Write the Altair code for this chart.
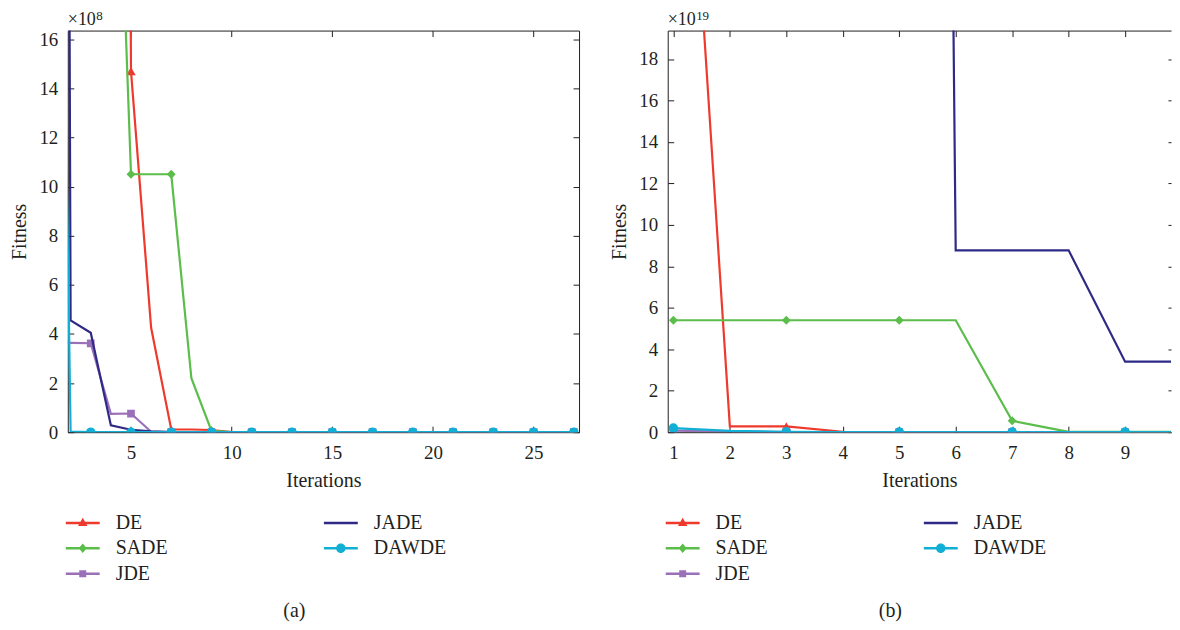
import altair as alt
import pandas as pd

FONT = "Liberation Serif"
INK = "#231f20"

ALGS = ["DE", "SADE", "JDE", "JADE", "DAWDE"]
COLORS = {"DE": "#ee3a2c", "SADE": "#5bbd4a", "JDE": "#9a70b8",
          "JADE": "#2e2a86", "DAWDE": "#11aed5"}
MARKERS = {"DE": ("triangle-up", 90), "SADE": ("diamond", 80),
           "JDE": ("square", 60), "DAWDE": ("circle", 90)}

LINE = "M-3.4,-0.25H3.4V0.25H-3.4Z"
LEGEND_PATHS = {
    "DE": LINE + "M0,-1.05L0.95,0.65L-0.95,0.65Z",
    "SADE": LINE + "M0,-0.95L0.8,0L0,0.95L-0.8,0Z",
    "JDE": LINE + "M-0.7,-0.7H0.7V0.7H-0.7Z",
    "JADE": LINE,
    "DAWDE": LINE + "M-0.95,0A0.95,0.95 0 1 1 0.95,0A0.95,0.95 0 1 1 -0.95,0Z",
}

# ---- panel (a): fitness in units of 1e8 ----
a_iter = list(range(1, 28))
a_DE = [800, 500, 300, 160, 14.7, 4.25, 0.11, 0.11, 0.09, 0, 0, 0, 0, 0,
        0, 0, 0, 0, 0, 0, 0, 0, 0, 0, 0, 0, 0]
a_SADE = [250, 120, 60, 33, 10.5, 10.5, 10.5, 2.2, 0.05, 0, 0, 0, 0, 0,
          0, 0, 0, 0, 0, 0, 0, 0, 0, 0, 0, 0, 0]
a_JDE = [3.66, 3.64, 3.62, 0.75, 0.76, 0.02, 0, 0, 0, 0, 0, 0, 0, 0,
         0, 0, 0, 0, 0, 0, 0, 0, 0, 0, 0, 0, 0]
a_JADE = [240, 4.55, 4.05, 0.28, 0.1, 0.03, 0, 0, 0, 0, 0, 0, 0, 0,
          0, 0, 0, 0, 0, 0, 0, 0, 0, 0, 0, 0, 0]
a_DAWDE = [54, 0.02, 0, 0, 0, 0, 0, 0, 0, 0, 0, 0, 0, 0,
           0, 0, 0, 0, 0, 0, 0, 0, 0, 0, 0, 0, 0]
a_xdomain = [1.86, 27.26]
a_ydomain = [0, 16.35]
a_xticks = [5, 10, 15, 20, 25]
a_yticks = [0, 2, 4, 6, 8, 10, 12, 14, 16]

# ---- panel (b): fitness in units of 1e19 ----
b_iter = list(range(1, 11))
b_DE = [42, 0.28, 0.28, 0.02, 0.01, 0.01, 0.01, 0.01, 0.01, 0.01]
b_SADE = [5.4, 5.4, 5.4, 5.4, 5.4, 5.4, 0.55, 0.02, 0.02, 0.02]
b_JDE = [0.08, 0.02, 0.01, 0.01, 0.01, 0.01, 0.01, 0.01, 0.01, 0.01]
b_JADE = [900, 800, 700, 600, 280, 8.77, 8.77, 8.77, 3.4, 3.4]
b_DAWDE = [0.2, 0.06, 0.02, 0.01, 0.01, 0.01, 0.01, 0.01, 0.01, 0.01]
b_xdomain = [0.9, 9.813]
b_ydomain = [0, 19.37]
b_xticks = [1, 2, 3, 4, 5, 6, 7, 8, 9]
b_yticks = [0, 2, 4, 6, 8, 10, 12, 14, 16, 18]


def panel(iters, series, xdom, ydom, xticks, yticks, exp_digits, label, width, height,
          right_tick):
    rows = []
    for alg in ALGS:
        for it, v in zip(iters, series[alg]):
            rows.append({"it": it, "val": v, "alg": alg})
    df = pd.DataFrame(rows)
    base = alt.Chart(df)
    xs = alt.Scale(domain=xdom, nice=False, zero=False)
    ys = alt.Scale(domain=ydom, nice=False, zero=False)
    cscale = alt.Scale(domain=ALGS, range=[COLORS[a] for a in ALGS])
    sscale = alt.Scale(domain=ALGS, range=[LEGEND_PATHS[a] for a in ALGS])

    layers = []
    first = True
    for alg in ALGS:
        sub = base.transform_filter(alt.datum.alg == alg)
        if first:
            xenc = alt.X("it:Q", scale=xs, axis=alt.Axis(
                orient="bottom", values=xticks, title="Iterations", format="d",
                tickSize={"expr": "-6"}, labelPadding=17, titlePadding=8,
                labelFlush=False, labelOverlap=False))
            yenc = alt.Y("val:Q", scale=ys, axis=alt.Axis(
                orient="left", values=yticks, title="Fitness", format="d",
                tickSize={"expr": "-6"}, labelPadding=16, titlePadding=9.7,
                minExtent=29, maxExtent=29, labelFlush=False, labelOverlap=False))
            first = False
        else:
            xenc = alt.X("it:Q", scale=xs, axis=None)
            yenc = alt.Y("val:Q", scale=ys, axis=None)
        layers.append(sub.mark_line(clip=True, strokeWidth=2.2, color=COLORS[alg]).encode(
            x=xenc, y=yenc))
        if alg in MARKERS:
            shp, sz = MARKERS[alg]
            layers.append(sub.transform_filter("datum.it % 2 == 1").mark_point(
                clip=True, filled=True, shape=shp, size=sz, opacity=1,
                color=COLORS[alg]).encode(
                x=alt.X("it:Q", scale=xs, axis=None),
                y=alt.Y("val:Q", scale=ys, axis=None)))

    leg = alt.Legend(title=None, orient="none", legendX=5, legendY=484, columns=2,
                     columnPadding=156, rowPadding=5.5, padding=0,
                     labelFont=FONT, labelFontSize=20, labelColor=INK, labelOffset=23,
                     symbolSize=100, symbolStrokeWidth=0, symbolOpacity=1)
    legend_layer = base.mark_point(clip=True, filled=True, opacity=0, size=100).encode(
        x=alt.X("it:Q", scale=xs, axis=alt.Axis(
            orient="top", values=xticks, labels=False, title=None,
            tickSize={"expr": "-6"})),
        y=alt.Y("val:Q", scale=ys, axis=alt.Axis(
            orient="right", values=yticks, labels=False, title=None,
            tickSize={"expr": right_tick}, domain=(label == "(a)"))),
        color=alt.Color("alg:N", scale=cscale, legend=leg),
        shape=alt.Shape("alg:N", scale=sscale, legend=leg),
    )
    layers.append(legend_layer)

    main_txt = alt.Chart(pd.DataFrame({"t": ["×10"]})).mark_text(
        align="left", baseline="alphabetic", font=FONT, fontSize=18, color=INK
    ).encode(text="t:N", x=alt.value(0), y=alt.value(-6))
    sup_txt = alt.Chart(pd.DataFrame({"t": [exp_digits]})).mark_text(
        align="left", baseline="alphabetic", font=FONT, fontSize=13, color=INK
    ).encode(text="t:N", x=alt.value(28.5), y=alt.value(-11))
    layers += [main_txt, sup_txt]

    return alt.layer(*layers).resolve_axis(x="independent", y="independent").properties(
        width=width, height=height,
        title=alt.TitleParams(label, orient="bottom", anchor="middle", frame="bounds",
                              font=FONT, fontSize=20, fontWeight="normal", color=INK,
                              offset=17))


pa = panel(a_iter, {"DE": a_DE, "SADE": a_SADE, "JDE": a_JDE, "JADE": a_JADE, "DAWDE": a_DAWDE},
           a_xdomain, a_ydomain, a_xticks, a_yticks, "8", "(a)", 513, 403, "-6")
pb = panel(b_iter, {"DE": b_DE, "SADE": b_SADE, "JDE": b_JDE, "JADE": b_JADE, "DAWDE": b_DAWDE},
           b_xdomain, b_ydomain, b_xticks, b_yticks, "19", "(b)", 505, 403, "-3")

chart = alt.hconcat(pa, pb, spacing=29).resolve_scale(
    color="independent", shape="independent"
).properties(
    padding={"left": 1, "top": 0.6, "right": 0, "bottom": 0}
).configure(font=FONT).configure_view(stroke=None).configure_axis(
    domainColor=INK, tickColor=INK, labelFont=FONT, titleFont=FONT,
    labelFontSize=19, titleFontSize=20, titleFontWeight="normal",
    labelColor=INK, titleColor=INK, grid=False, domainWidth=1, tickWidth=1
).configure_legend(labelFont=FONT).configure_concat(spacing=29)

chart.save("out.html", embed_options={"renderer": "svg", "actions": False})
